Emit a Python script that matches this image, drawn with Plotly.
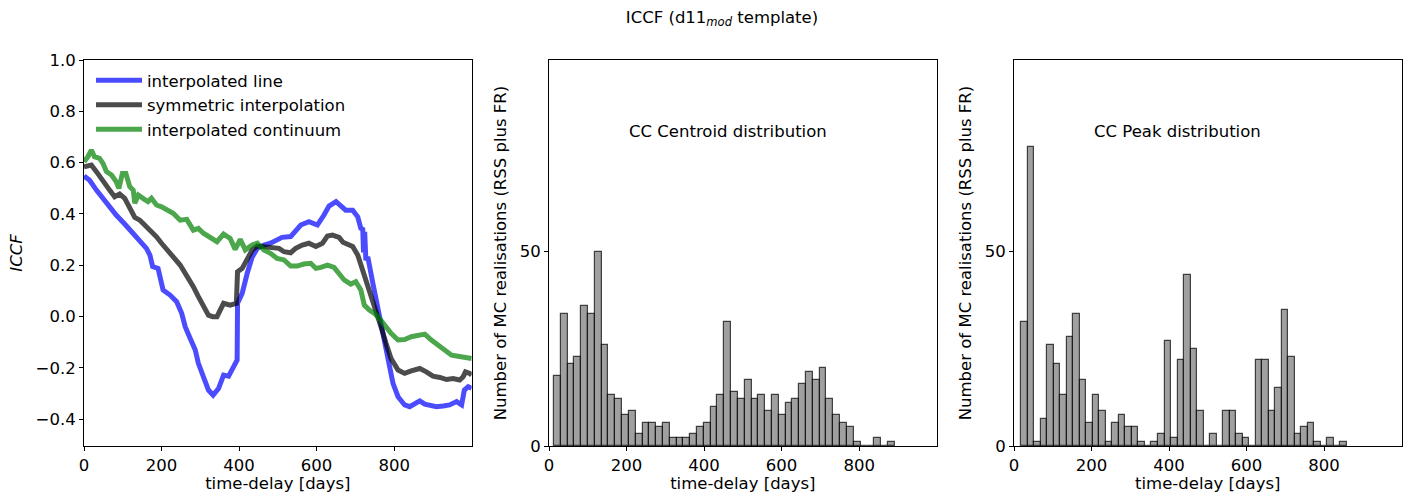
import plotly.graph_objects as go

# ---- ICCF curves: time delay [days] and correlation value ----
line_days = [0, 14, 32, 49, 66, 83, 105, 122, 144, 161, 170, 177, 191, 196, 204, 222, 239, 252, 261, 274,
             287, 295, 308, 321, 333, 347, 360, 373, 386, 395, 396, 408, 421, 434, 447, 464, 481, 498, 511,
             533, 546, 559, 580, 602, 619, 632, 650, 663, 675, 693, 706, 714, 719, 721, 724, 727, 732, 745,
             758, 771, 784, 797, 810, 827, 840, 853, 866, 879, 891, 909, 926, 943, 961, 974, 981, 991, 1000]
line_iccf = [0.548, 0.532, 0.493, 0.461, 0.422, 0.396, 0.361, 0.331, 0.292, 0.266, 0.240, 0.195, 0.188,
             0.156, 0.104, 0.084, 0.058, 0.013, -0.039, -0.085, -0.130, -0.182, -0.240, -0.286, -0.306,
             -0.280, -0.228, -0.232, -0.195, -0.169, 0.052, 0.091, 0.169, 0.233, 0.266, 0.279, 0.286, 0.299,
             0.309, 0.312, 0.337, 0.357, 0.370, 0.357, 0.396, 0.431, 0.448, 0.432, 0.415, 0.415, 0.389,
             0.344, 0.340, 0.250, 0.330, 0.220, 0.233, 0.130, 0.026, -0.078, -0.182, -0.260, -0.312, -0.344,
             -0.351, -0.338, -0.328, -0.341, -0.344, -0.351, -0.348, -0.344, -0.331, -0.344, -0.286, -0.273,
             -0.279]

sym_days = [0, 19, 32, 49, 66, 79, 92, 105, 118, 131, 144, 161, 174, 187, 200, 213, 230, 248, 265, 282,
            295, 308, 321, 332, 343, 360, 377, 393, 396, 408, 421, 434, 447, 464, 486, 503, 516, 533, 546,
            563, 580, 598, 615, 628, 641, 658, 668, 675, 693, 706, 719, 727, 740, 753, 766, 779, 792, 810,
            827, 844, 866, 883, 900, 918, 935, 952, 969, 978, 984, 995, 1000]
sym_iccf = [0.584, 0.591, 0.565, 0.526, 0.493, 0.467, 0.478, 0.461, 0.422, 0.387, 0.376, 0.350, 0.337,
            0.311, 0.286, 0.260, 0.233, 0.201, 0.162, 0.117, 0.078, 0.039, 0.006, 0.000, 0.000, 0.052,
            0.045, 0.052, 0.175, 0.188, 0.221, 0.260, 0.275, 0.273, 0.270, 0.266, 0.253, 0.249, 0.266,
            0.279, 0.286, 0.273, 0.286, 0.314, 0.318, 0.309, 0.290, 0.286, 0.273, 0.240, 0.182, 0.149,
            0.091, 0.026, -0.039, -0.104, -0.163, -0.208, -0.221, -0.211, -0.202, -0.215, -0.232, -0.237,
            -0.245, -0.241, -0.247, -0.234, -0.215, -0.221, -0.228]

cont_days = [0, 10, 19, 27, 40, 49, 58, 71, 83, 90, 99, 108, 118, 127, 131, 140, 152, 165, 174, 187, 200,
             213, 230, 248, 265, 282, 295, 308, 321, 332, 343, 360, 377, 390, 403, 416, 434, 447, 464, 481,
             498, 516, 533, 550, 567, 585, 598, 611, 628, 645, 658, 671, 688, 701, 714, 723, 736, 749, 762,
             775, 792, 810, 827, 844, 862, 879, 896, 913, 930, 948, 965, 982, 1000]
cont_iccf = [0.604, 0.623, 0.649, 0.623, 0.617, 0.597, 0.565, 0.552, 0.526, 0.500, 0.558, 0.558, 0.506,
             0.493, 0.442, 0.474, 0.461, 0.448, 0.461, 0.435, 0.428, 0.415, 0.403, 0.376, 0.379, 0.337,
             0.344, 0.325, 0.311, 0.299, 0.292, 0.322, 0.305, 0.262, 0.301, 0.260, 0.279, 0.286, 0.260,
             0.247, 0.227, 0.221, 0.197, 0.197, 0.205, 0.208, 0.188, 0.192, 0.201, 0.192, 0.169, 0.143,
             0.127, 0.136, 0.104, 0.045, 0.026, 0.013, -0.007, -0.033, -0.065, -0.091, -0.089, -0.078,
             -0.072, -0.068, -0.091, -0.111, -0.130, -0.150, -0.154, -0.159, -0.163]

# ---- Monte Carlo histograms (50 bins each) ----
centroid_bin_start = 12.8
centroid_bin_width = 17.57
centroid_counts = [18, 34, 21, 23, 36, 34, 50, 26, 13, 12, 8, 9, 3, 6, 6, 5, 6, 2, 2, 2,
                   3, 5, 6, 10, 13, 32, 14, 12, 17, 12, 13, 9, 13, 8, 11, 12, 16, 19, 17, 20,
                   12, 8, 6, 5, 1, 0, 0, 2, 0, 1]

peak_bin_start = 18.8
peak_bin_width = 16.8
peak_counts = [32, 77, 1, 7, 26, 21, 13, 28, 34, 17, 6, 13, 9, 1, 6, 8, 5, 5, 1, 0,
               1, 3, 27, 2, 22, 44, 25, 9, 0, 3, 0, 9, 9, 3, 2, 0, 22, 22, 9, 15,
               35, 23, 3, 5, 6, 1, 0, 2, 0, 1]

x_ticks = [0, 200, 400, 600, 800]
iccf_ticks = [-0.4, -0.2, 0.0, 0.2, 0.4, 0.6, 0.8, 1.0]
count_ticks = [0, 50]

FONT = "DejaVu Sans"
FS = 16.5


def centers(start, width, n):
    return [start + width * (i + 0.5) for i in range(n)]


fig = go.Figure()

for days, vals, name, col in [
    (line_days, line_iccf, "interpolated line", "rgba(0,0,255,0.7)"),
    (sym_days, sym_iccf, "symmetric interpolation", "rgba(0,0,0,0.7)"),
    (cont_days, cont_iccf, "interpolated continuum", "rgba(0,128,0,0.7)"),
]:
    fig.add_trace(go.Scatter(x=days, y=vals, mode="lines", name=name, legendgroup=name,
                             line=dict(color=col, width=5), xaxis="x", yaxis="y"))

bar_style = dict(color="rgba(128,128,128,0.75)", line=dict(color="rgba(0,0,0,0.7)", width=1.2))
fig.add_trace(go.Bar(x=centers(centroid_bin_start, centroid_bin_width, len(centroid_counts)),
                     y=centroid_counts, width=centroid_bin_width, marker=bar_style,
                     showlegend=False, xaxis="x2", yaxis="y2"))
fig.add_trace(go.Bar(x=centers(peak_bin_start, peak_bin_width, len(peak_counts)),
                     y=peak_counts, width=peak_bin_width, marker=bar_style,
                     showlegend=False, xaxis="x3", yaxis="y3"))

W, H = 1410, 493
y_dom = [1 - 446 / H, 1 - 60 / H]
x_doms = [[84 / W, 471.7 / W], [549 / W, 936.7 / W], [1014 / W, 1401.5 / W]]

axis_common = dict(showline=True, linecolor="black", linewidth=1, mirror=True, showgrid=False,
                   zeroline=False, ticks="outside", ticklen=4, tickwidth=1, tickcolor="black",
                   automargin=False,
                   tickfont=dict(family=FONT, size=FS, color="black"))
title_font = dict(family=FONT, size=FS, color="black")

layout_axes = {}
for i, dom in enumerate(x_doms):
    suffix = "" if i == 0 else str(i + 1)
    layout_axes["xaxis" + suffix] = dict(axis_common, domain=dom, range=[0, 1000], tickvals=x_ticks,
                                         anchor="y" + suffix,
                                         title=dict(text="time-delay [days]", font=title_font, standoff=2))
layout_axes["yaxis"] = dict(axis_common, domain=y_dom, range=[-0.504, 1.0], tickvals=iccf_ticks,
                            tickformat=".1f", anchor="x",
                            title=dict(text="<i>ICCF</i>", font=title_font, standoff=8))
for s in ["2", "3"]:
    layout_axes["yaxis" + s] = dict(axis_common, domain=y_dom, range=[0, 99.3], tickvals=count_ticks,
                                    anchor="x" + s,
                                    title=dict(text="Number of MC realisations (RSS plus FR)",
                                               font=title_font, standoff=8))

fig.update_layout(
    width=W, height=H, margin=dict(l=0, r=0, t=0, b=0, autoexpand=False),
    paper_bgcolor="white", plot_bgcolor="white",
    font=dict(family=FONT, size=FS, color="black"),
    title=dict(text="ICCF (d11<sub><i>mod</i></sub> template)", x=722 / W, xanchor="center",
               y=1 - 17 / H, yanchor="middle", font=dict(family=FONT, size=FS, color="black")),
    legend=dict(x=91 / W, y=1 - 63 / H, xanchor="left", yanchor="top", bgcolor="rgba(0,0,0,0)",
                font=dict(family=FONT, size=FS, color="black"), tracegroupgap=0, itemwidth=46),
    bargap=0,
    annotations=[
        dict(text="CC Centroid distribution", x=200, y=81, xref="x2", yref="y2", xanchor="left",
             yanchor="middle", showarrow=False, font=dict(family=FONT, size=FS, color="black")),
        dict(text="CC Peak distribution", x=200, y=81, xref="x3", yref="y3", xanchor="left",
             yanchor="middle", showarrow=False, font=dict(family=FONT, size=FS, color="black")),
    ],
    **layout_axes,
)

fig.write_html("out.html")
